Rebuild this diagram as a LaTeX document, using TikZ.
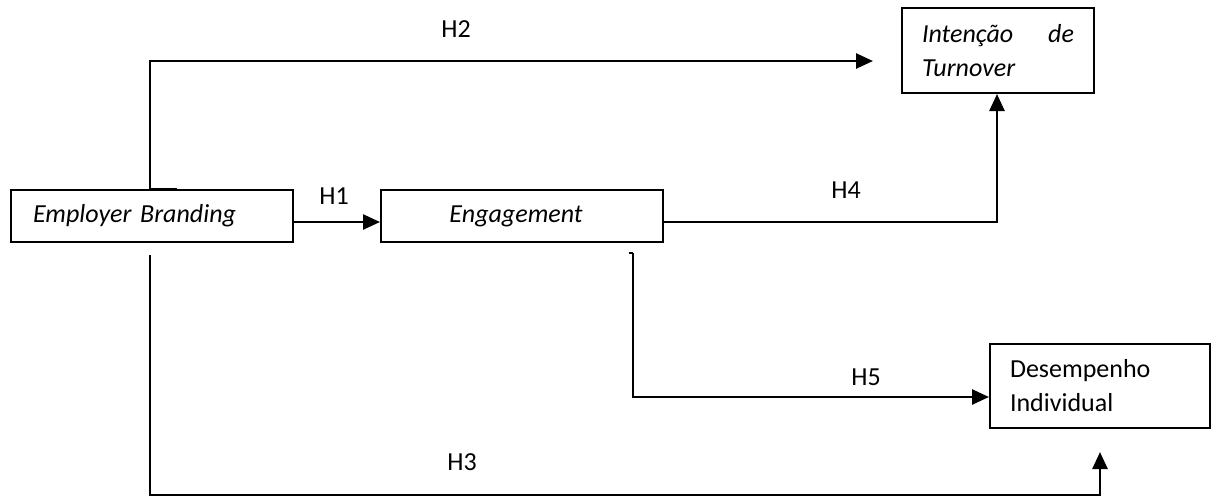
\documentclass[tikz,border=0pt]{standalone}
\usepackage{fontspec}
\setmainfont{Carlito}
\usetikzlibrary{arrows.meta}
\begin{document}
\begin{tikzpicture}[x=1pt,y=-1pt,
  every node/.style={font=\fontsize{26}{34}\selectfont},
  box/.style={draw,line width=2pt,anchor=north west,inner sep=0pt},
  link/.style={line width=2.6pt,-{Triangle[length=17pt,width=15pt]}},
  plain/.style={line width=2.6pt},
  lbl/.style={inner sep=1pt}]
\useasboundingbox (0,0) rectangle (1213,499);

% constructs
\node[box,minimum width=282pt,minimum height=52pt,text width=238pt,align=left,inner xsep=22pt] (eb) at (10,189) {\itshape Employer Branding};
\node[box,minimum width=282pt,minimum height=52pt,align=center] (eng) at (380,189) {\hspace*{-12pt}\itshape Engagement};
\node[box,minimum width=192pt,minimum height=85pt,text width=152pt,inner xsep=20pt,align=left] (it) at (901,7)
  {\fontsize{26}{35}\selectfont\itshape\makebox[152pt][s]{Intenção\hfill de}\\Turnover};
\node[box,minimum width=219pt,minimum height=84pt,text width=180pt,inner xsep=20pt,align=left] (dp) at (989,343)
  {\fontsize{26}{33}\selectfont Desempenho\\Individual};

% free ends of the connectors
\coordinate (h2s) at (150,189);
\coordinate (h2e) at (873,61);
\coordinate (h3s) at (150,255);
\coordinate (h3e) at (1100,452);
\coordinate (h5s) at (633,253);

% H1
\draw[link] (eb.east |- 0,222) -- (eng.west |- 0,222);
% H2
\draw[plain] (177,189) -- (h2s);
\draw[link] (h2s) -- (h2s |- h2e) -- (h2e);
% H3
\draw[link] (h3s) -- (150,495) -- (h3e |- 0,495) -- (h3e);
% H4
\draw[link] (eng.east |- 0,222) -- (997,222) -- (it.south -| 997,0);
% H5
\draw[plain] (629,253) -- (h5s);
\draw[link] (h5s) -- (h5s |- 0,397) -- (dp.west |- 0,397);

% hypothesis labels
\node[lbl] (l1) at (334,196) {H1};
\node[lbl] (l2) at (456,29) {H2};
\node[lbl] (l3) at (462,462) {H3};
\node[lbl] (l4) at (846,190) {H4};
\node[lbl] (l5) at (866,377) {H5};
\end{tikzpicture}
\end{document}
